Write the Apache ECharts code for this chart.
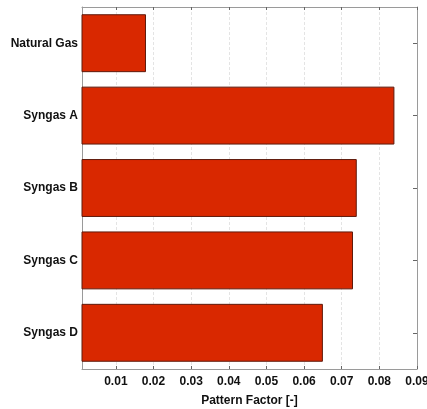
<!DOCTYPE html>
<html>
<head>
<meta charset="utf-8">
<script src="https://cdn.jsdelivr.net/npm/echarts@6/dist/echarts.min.js"></script>
<style>
  html, body { margin: 0; padding: 0; background: #fff; }
  #chart { width: 427px; height: 409px; }
</style>
</head>
<body>
<div id="chart"></div>
<script>
// Fuel categories, top to bottom
const fuels = ['Natural Gas', 'Syngas A', 'Syngas B', 'Syngas C', 'Syngas D'];
// Pattern factor for each fuel
const patternFactor = [0.018, 0.084, 0.074, 0.073, 0.065];
// Tick values shown on the value axis
const xTicks = [0.01, 0.02, 0.03, 0.04, 0.05, 0.06, 0.07, 0.08, 0.09];
const xMin = 0.001;
const xMax = 0.09;

const font = 'Liberation Sans, Arial, Helvetica, sans-serif';
const frameColor = '#9a9a9a';

const chart = echarts.init(document.getElementById('chart'), null, { renderer: 'canvas' });

chart.setOption({
  animation: false,
  backgroundColor: '#ffffff',
  grid: { left: 82, right: 10, top: 7, bottom: 40, containLabel: false, outerBoundsMode: 'none' },
  xAxis: [
    {
      type: 'value',
      position: 'bottom',
      min: xMin,
      max: xMax,
      name: 'Pattern Factor [-]',
      nameLocation: 'middle',
      nameGap: 26,
      nameTextStyle: { fontFamily: font, fontWeight: 'bold', fontSize: 12, color: '#111' },
      axisLine: { show: true, lineStyle: { color: frameColor, width: 1 } },
      axisTick: { show: true, inside: true, length: 3, customValues: xTicks, lineStyle: { color: '#666' } },
      axisLabel: {
        customValues: xTicks,
        margin: 7,
        hideOverlap: false,
        fontFamily: font, fontWeight: 'bold', fontSize: 12, color: '#111',
        formatter: v => v.toFixed(2)
      },
      splitLine: { show: true, lineStyle: { color: '#e4e4e4', type: [3, 2], width: 1 } }
    },
    {
      type: 'value',
      position: 'top',
      min: xMin,
      max: xMax,
      axisLine: { show: true, lineStyle: { color: frameColor, width: 1 } },
      axisTick: { show: true, inside: true, length: 3, customValues: xTicks, lineStyle: { color: '#666' } },
      axisLabel: { show: false },
      splitLine: { show: false }
    }
  ],
  yAxis: [
    {
      type: 'category',
      data: fuels,
      inverse: true,
      position: 'left',
      axisLine: { show: true, lineStyle: { color: frameColor, width: 1 } },
      axisTick: { show: false },
      axisLabel: { margin: 4, fontFamily: font, fontWeight: 'bold', fontSize: 12, color: '#111' }
    },
    {
      type: 'category',
      data: fuels,
      inverse: true,
      position: 'right',
      axisLine: { show: true, lineStyle: { color: frameColor, width: 1 } },
      axisTick: { show: true, inside: true, length: 4, alignWithLabel: true, lineStyle: { color: '#666' } },
      axisLabel: { show: false }
    }
  ],
  series: [
    {
      type: 'bar',
      xAxisIndex: 0,
      yAxisIndex: 0,
      data: patternFactor,
      barWidth: '80%',
      itemStyle: { color: '#d92800', borderColor: '#5e1a0c', borderWidth: 1 }
    }
  ]
});
</script>
</body>
</html>
